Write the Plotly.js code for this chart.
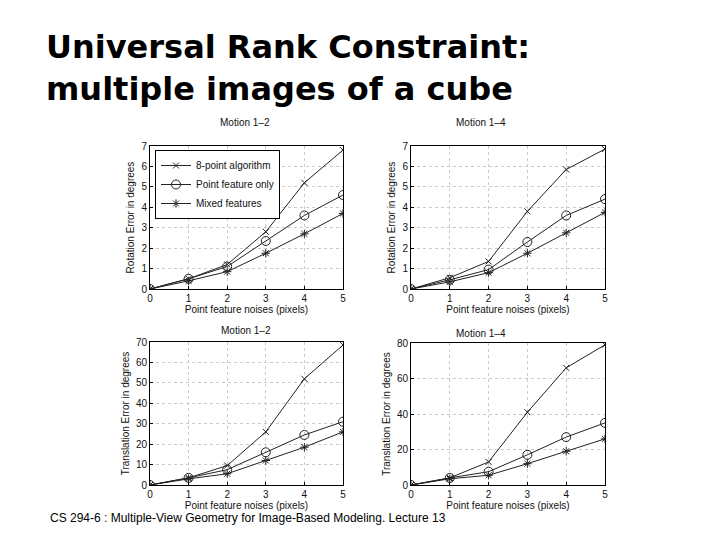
<!DOCTYPE html>
<html>
<head>
<meta charset="utf-8">
<script src="https://cdn.plot.ly/plotly-3.0.1.min.js"></script>
<style>
  body { margin: 0; background: #fff; }
  #chart { width: 720px; height: 540px; }
</style>
</head>
<body>
<div id="chart"></div>
<script>
// noise levels (pixels)
var noise = [0, 1, 2, 3, 4, 5];
var seriesNames = ['8-point algorithm', 'Point feature only', 'Mixed features'];

// rotation error, motion 1-2
var rot12_8pt   = [0, 0.5, 1.2, 2.8, 5.2, 6.8];
var rot12_point = [0, 0.5, 1.1, 2.35, 3.6, 4.6];
var rot12_mixed = [0, 0.4, 0.85, 1.75, 2.7, 3.7];

// rotation error, motion 1-4
var rot14_8pt   = [0, 0.55, 1.35, 3.8, 5.85, 6.85];
var rot14_point = [0, 0.45, 0.95, 2.3, 3.6, 4.4];
var rot14_mixed = [0, 0.35, 0.8, 1.75, 2.75, 3.75];

// translation error, motion 1-2
var tr12_8pt   = [0, 3.5, 9.5, 26, 52, 68.5];
var tr12_point = [0, 3.5, 7.5, 16, 24.5, 31];
var tr12_mixed = [0, 3, 5.5, 12, 18.5, 26];

// translation error, motion 1-4
var tr14_8pt   = [0, 4, 13, 41, 66, 79];
var tr14_point = [0, 4, 7.5, 17, 27, 35];
var tr14_mixed = [0, 3.5, 5.5, 12, 19, 26];

var symbols = ['x-thin-open', 'circle-open', 'asterisk-open'];
var sizes = [6, 9, 7];

function makeTraces(ys, xa, ya, showLegend) {
    return ys.map(function (y, i) {
        return {
            type: 'scatter',
            mode: 'lines+markers',
            x: noise,
            y: y,
            xaxis: xa,
            yaxis: ya,
            name: seriesNames[i],
            showlegend: showLegend,
            line: {color: '#222', width: 1},
            marker: {symbol: symbols[i], size: sizes[i], color: '#222', line: {color: '#222', width: 1}}
        };
    });
}

var traces = []
    .concat(makeTraces([rot12_8pt, rot12_point, rot12_mixed], 'x', 'y', true))
    .concat(makeTraces([rot14_8pt, rot14_point, rot14_mixed], 'x2', 'y2', false))
    .concat(makeTraces([tr12_8pt, tr12_point, tr12_mixed], 'x3', 'y3', false))
    .concat(makeTraces([tr14_8pt, tr14_point, tr14_mixed], 'x4', 'y4', false));

var W = 720, H = 540;
function xd(a, b) { return [a / W, b / W]; }
function yd(top, bottom) { return [1 - bottom / H, 1 - top / H]; }

var tickFont = {family: 'Liberation Sans, Arial, sans-serif', size: 10, color: '#111'};
var labFont = {family: 'Liberation Sans, Arial, sans-serif', size: 10, color: '#111'};

function xAxis(dom, anchor) {
    return {
        domain: dom, anchor: anchor, range: [0, 5], dtick: 1,
        showline: true, mirror: true, linecolor: '#000', linewidth: 1,
        ticks: 'inside', ticklen: 3, tickcolor: '#000',
        showgrid: true, gridcolor: '#ccc', griddash: 'dot', zeroline: false,
        tickfont: tickFont,
        title: {text: 'Point feature noises (pixels)', font: labFont, standoff: 2}
    };
}
function yAxis(dom, anchor, range, dtick, title) {
    return {
        domain: dom, anchor: anchor, range: range, dtick: dtick,
        showline: true, mirror: true, linecolor: '#000', linewidth: 1,
        ticks: 'inside', ticklen: 3, tickcolor: '#000',
        showgrid: true, gridcolor: '#ccc', griddash: 'dot', zeroline: false,
        tickfont: tickFont,
        title: {text: title, font: labFont, standoff: 4}
    };
}

var layout = {
    width: W, height: H,
    margin: {l: 0, r: 0, t: 0, b: 0},
    paper_bgcolor: '#fff', plot_bgcolor: '#fff',
    font: {family: 'Liberation Sans, Arial, sans-serif', color: '#111'},
    xaxis: xAxis(xd(150, 343), 'y'),
    yaxis: yAxis(yd(146, 289), 'x', [0, 7], 1, 'Rotation Error in degrees'),
    xaxis2: xAxis(xd(411, 605), 'y2'),
    yaxis2: yAxis(yd(146, 289), 'x2', [0, 7], 1, 'Rotation Error in degrees'),
    xaxis3: xAxis(xd(150, 343), 'y3'),
    yaxis3: yAxis(yd(342, 485), 'x3', [0, 70], 10, 'Translation Error in degrees'),
    xaxis4: xAxis(xd(411, 605), 'y4'),
    yaxis4: yAxis(yd(343, 485), 'x4', [0, 80], 20, 'Translation Error in degrees'),
    legend: {
        x: 155 / W, y: 1 - 150 / H, xanchor: 'left', yanchor: 'top',
        bgcolor: '#fff', bordercolor: '#000', borderwidth: 1,
        font: {family: 'Liberation Sans, Arial, sans-serif', size: 10, color: '#111'},
        tracegroupgap: 0, itemwidth: 30
    },
    annotations: [
        {text: '<b>Universal Rank Constraint:<br>multiple images of a cube</b>', x: 44 / W, y: 1 - 26 / H,
         xref: 'paper', yref: 'paper', xanchor: 'left', yanchor: 'top', align: 'left', showarrow: false,
         font: {family: 'DejaVu Sans, Verdana, sans-serif', size: 32, color: '#000'}},
        {text: 'Motion 1\u20132', x: 245 / W, y: 1 - 115 / H, xref: 'paper', yref: 'paper',
         showarrow: false, font: {size: 10}},
        {text: 'Motion 1\u20134', x: 508 / W, y: 1 - 115 / H, xref: 'paper', yref: 'paper',
         showarrow: false, font: {size: 10}},
        {text: 'Motion 1\u20132', x: 246 / W, y: 1 - 330 / H, xref: 'paper', yref: 'paper',
         showarrow: false, font: {size: 10}},
        {text: 'Motion 1\u20134', x: 508 / W, y: 1 - 333 / H, xref: 'paper', yref: 'paper',
         showarrow: false, font: {size: 10}},
        {text: 'CS 294-6 : Multiple-View Geometry for Image-Based Modeling. Lecture 13', x: 48 / W, y: 1 - 527 / H,
         xref: 'paper', yref: 'paper', xanchor: 'left', showarrow: false,
         font: {family: 'Liberation Sans, Arial, sans-serif', size: 12, color: '#000'}}
    ]
};

Plotly.newPlot('chart', traces, layout, {displayModeBar: false, staticPlot: true});
</script>
</body>
</html>
